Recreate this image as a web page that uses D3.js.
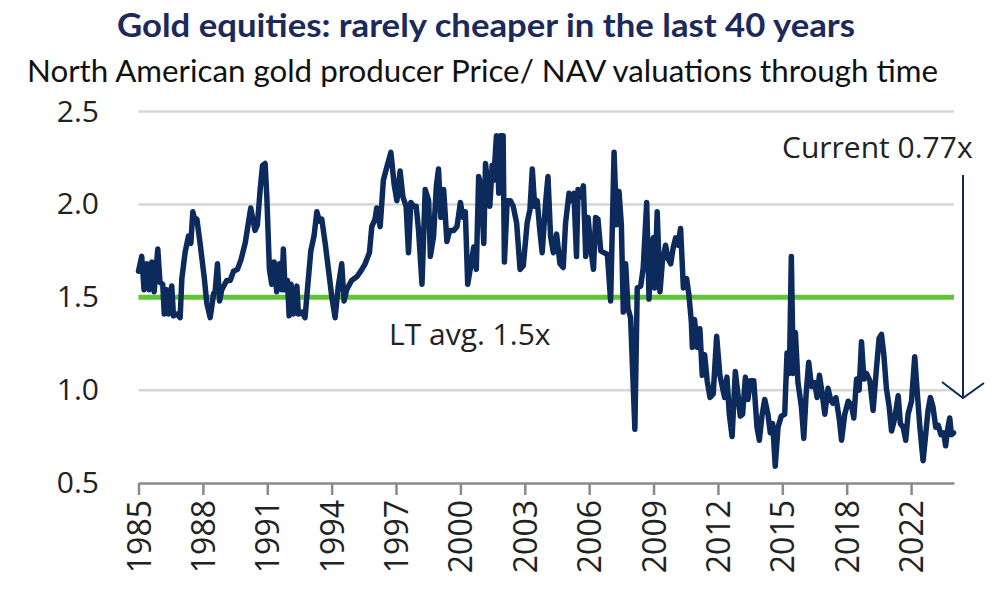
<!DOCTYPE html>
<html>
<head>
<meta charset="utf-8">
<script src="https://cdn.jsdelivr.net/npm/d3@7"></script>
<style>
  html, body { margin: 0; padding: 0; background: #fff; }
  svg { display: block; }
</style>
</head>
<body>
<div id="chart"></div>
<script>
// Price/NAV, as (decimal year, multiple) pairs
const years = [
  1985.00, 1985.15, 1985.26, 1985.39, 1985.50, 1985.62, 1985.73, 1985.90, 1986.00, 1986.13,
  1986.20, 1986.32, 1986.40, 1986.55, 1986.63, 1986.79, 1986.94, 1987.02, 1987.17, 1987.33,
  1987.44, 1987.53, 1987.64, 1987.72, 1987.87, 1988.06, 1988.18, 1988.34, 1988.50, 1988.57,
  1988.68, 1988.78, 1988.88, 1989.11, 1989.27, 1989.43, 1989.61, 1989.77, 1989.97, 1990.12,
  1990.23, 1990.33, 1990.43, 1990.54, 1990.67, 1990.78, 1990.90, 1990.98, 1991.10, 1991.21,
  1991.32, 1991.44, 1991.57, 1991.68, 1991.75, 1991.83, 1991.94, 1992.02, 1992.11, 1992.22,
  1992.38, 1992.45, 1992.61, 1992.76, 1992.87, 1993.03, 1993.18, 1993.31, 1993.43, 1993.54,
  1993.70, 1993.85, 1994.01, 1994.16, 1994.31, 1994.47, 1994.58, 1994.70, 1994.93, 1995.17,
  1995.36, 1995.56, 1995.76, 1995.87, 1996.02, 1996.10, 1996.26, 1996.41, 1996.57, 1996.76,
  1996.91, 1997.04, 1997.19, 1997.32, 1997.47, 1997.58, 1997.69, 1997.82, 1997.94, 1998.05,
  1998.21, 1998.36, 1998.52, 1998.60, 1998.75, 1998.88, 1998.98, 1999.09, 1999.22, 1999.37,
  1999.50, 1999.69, 1999.84, 2000.00, 2000.12, 2000.23, 2000.34, 2000.47, 2000.62, 2000.74,
  2000.85, 2000.96, 2001.09, 2001.17, 2001.28, 2001.37, 2001.48, 2001.55, 2001.68, 2001.79,
  2001.87, 2001.99, 2002.05, 2002.18, 2002.33, 2002.46, 2002.62, 2002.78, 2002.93, 2003.11,
  2003.24, 2003.35, 2003.46, 2003.58, 2003.70, 2003.81, 2003.97, 2004.08, 2004.20, 2004.33,
  2004.48, 2004.64, 2004.79, 2004.90, 2005.06, 2005.17, 2005.29, 2005.41, 2005.48, 2005.60,
  2005.73, 2005.84, 2005.95, 2006.07, 2006.20, 2006.30, 2006.41, 2006.54, 2006.69, 2006.85,
  2007.00, 2007.16, 2007.28, 2007.39, 2007.50, 2007.59, 2007.70, 2007.81, 2007.93, 2008.13,
  2008.24, 2008.40, 2008.52, 2008.68, 2008.79, 2008.90, 2008.99, 2009.05, 2009.17, 2009.30,
  2009.41, 2009.56, 2009.67, 2009.80, 2009.92, 2010.03, 2010.14, 2010.26, 2010.39, 2010.54,
  2010.65, 2010.76, 2010.81, 2010.91, 2011.04, 2011.16, 2011.27, 2011.38, 2011.50, 2011.63,
  2011.78, 2011.94, 2012.09, 2012.31, 2012.42, 2012.53, 2012.66, 2012.81, 2012.93, 2013.04,
  2013.15, 2013.28, 2013.40, 2013.51, 2013.67, 2013.82, 2013.93, 2014.05, 2014.18, 2014.33,
  2014.44, 2014.55, 2014.67, 2014.80, 2014.95, 2015.11, 2015.22, 2015.33, 2015.42, 2015.51,
  2015.61, 2015.73, 2015.89, 2016.00, 2016.11, 2016.23, 2016.36, 2016.51, 2016.62, 2016.73,
  2016.86, 2016.98, 2017.13, 2017.25, 2017.35, 2017.50, 2017.66, 2017.76, 2017.91, 2018.07,
  2018.22, 2018.33, 2018.46, 2018.58, 2018.69, 2018.80, 2018.92, 2019.08, 2019.23, 2019.39,
  2019.51, 2019.62, 2019.73, 2019.85, 2019.98, 2020.09, 2020.24, 2020.40, 2020.50, 2020.63,
  2020.75, 2020.86, 2021.02, 2021.17, 2021.28, 2021.41, 2021.56, 2021.68, 2021.79, 2021.90,
  2022.02, 2022.15, 2022.27, 2022.39, 2022.52, 2022.61, 2022.72, 2022.80, 2022.88, 2022.98
];
const priceNav = [
  1.64, 1.72, 1.54, 1.68, 1.54, 1.69, 1.53, 1.76, 1.58, 1.57,
  1.41, 1.54, 1.41, 1.56, 1.40, 1.41, 1.39, 1.60, 1.74, 1.83,
  1.79, 1.96, 1.91, 1.92, 1.79, 1.61, 1.47, 1.39, 1.52, 1.53,
  1.68, 1.48, 1.54, 1.59, 1.59, 1.64, 1.65, 1.70, 1.79, 1.90,
  1.98, 1.92, 1.86, 1.89, 2.08, 2.21, 2.22, 2.04, 1.65, 1.57,
  1.69, 1.53, 1.68, 1.54, 1.76, 1.54, 1.59, 1.40, 1.57, 1.41,
  1.56, 1.41, 1.42, 1.39, 1.54, 1.75, 1.83, 1.96, 1.91, 1.92,
  1.79, 1.65, 1.50, 1.39, 1.56, 1.68, 1.48, 1.54, 1.59, 1.61,
  1.64, 1.68, 1.74, 1.88, 1.92, 1.98, 1.88, 2.13, 2.20, 2.28,
  2.11, 2.02, 2.18, 2.04, 1.99, 1.74, 2.01, 1.99, 1.99, 1.86,
  1.57, 2.08, 2.02, 1.72, 1.83, 2.10, 2.19, 1.93, 2.08, 1.80,
  1.86, 1.86, 1.88, 2.01, 1.93, 1.96, 1.57, 1.66, 1.77, 1.65,
  2.15, 2.10, 1.79, 2.22, 2.10, 1.99, 2.21, 2.13, 2.37, 2.06,
  2.37, 2.37, 1.69, 2.02, 2.02, 1.99, 1.90, 1.65, 1.67, 1.90,
  1.97, 2.19, 1.99, 2.02, 1.86, 1.74, 2.01, 2.15, 1.83, 1.74,
  1.84, 1.68, 1.66, 1.90, 2.06, 2.02, 2.06, 1.72, 2.08, 2.04,
  2.10, 1.72, 1.93, 1.77, 1.65, 1.93, 1.92, 1.75, 1.74, 1.73,
  1.48, 2.28, 1.89, 2.07, 1.89, 1.42, 1.68, 1.44, 1.39, 0.79,
  1.55, 1.56, 1.66, 2.01, 1.49, 1.77, 1.82, 1.55, 1.96, 1.53,
  1.69, 1.78, 1.71, 1.68, 1.77, 1.82, 1.78, 1.87, 1.55, 1.60,
  1.51, 1.37, 1.23, 1.38, 1.23, 1.33, 1.08, 1.19, 1.05, 0.96,
  0.98, 1.29, 1.08, 0.96, 1.07, 0.87, 0.75, 1.10, 0.98, 0.86,
  0.87, 1.07, 0.95, 1.05, 1.05, 0.80, 0.73, 0.86, 0.95, 0.87,
  0.77, 0.82, 0.59, 0.80, 0.86, 0.87, 1.20, 1.09, 1.72, 1.09,
  1.31, 1.04, 0.91, 0.74, 0.98, 1.15, 1.02, 1.04, 0.96, 1.08,
  0.98, 0.87, 1.01, 0.95, 0.93, 0.96, 0.84, 0.73, 0.87, 0.94,
  0.92, 0.85, 1.06, 1.00, 1.26, 1.06, 1.09, 1.05, 0.89, 1.12,
  1.28, 1.30, 1.19, 1.01, 0.91, 0.78, 0.85, 0.97, 0.82, 0.80,
  0.73, 0.87, 0.94, 1.18, 1.00, 0.80, 0.62, 0.76, 0.89, 0.96,
  0.91, 0.80, 0.81, 0.76, 0.77, 0.70, 0.80, 0.85, 0.76, 0.77
];

const tickYears = [1985, 1988, 1991, 1994, 1997, 2000, 2003, 2006, 2009, 2012, 2015, 2018, 2021];
const tickLabels = ["1985", "1988", "1991", "1994", "1997", "2000", "2003", "2006", "2009", "2012", "2015", "2018", "2022"];
const yTicks = [0.5, 1.0, 1.5, 2.0, 2.5];

const longTermAvg = 1.5;
const currentValue = 0.77;

const titleText = "Gold equities: rarely cheaper in the last 40 years";
const subtitleText = "North American gold producer Price/ NAV valuations through time";

const width = 1008;
const height = 589;
const navy = "#0c2a5c";
const green = "#5fc537";

const svg = d3.select("#chart").append("svg")
  .attr("width", width)
  .attr("height", height);

const x = d3.scaleLinear()
  .domain([1985, 2023])
  .range([138.5, 954]);
const y = d3.scaleLinear()
  .domain([0.5, 2.5])
  .range([483, 111.5]);

// titles
svg.append("text")
  .attr("x", 117)
  .attr("y", 37)
  .attr("textLength", 738)
  .attr("lengthAdjust", "spacingAndGlyphs")
  .style("font-family", "Lato, 'Open Sans', sans-serif")
  .style("font-weight", 700)
  .style("font-size", "32px")
  .style("fill", "#1b2a5a")
  .text(titleText);

svg.append("text")
  .attr("x", 27)
  .attr("y", 82)
  .attr("textLength", 911)
  .attr("lengthAdjust", "spacingAndGlyphs")
  .style("font-family", "Lato, 'Open Sans', sans-serif")
  .style("font-size", "30px")
  .style("fill", "#111")
  .text(subtitleText);

// gridlines
svg.append("g")
  .selectAll("line")
  .data(yTicks.filter(d => d > 0.5))
  .join("line")
    .attr("x1", x.range()[0])
    .attr("x2", x.range()[1])
    .attr("y1", d => y(d))
    .attr("y2", d => y(d))
    .style("stroke", "#d6d6d6")
    .style("stroke-width", 2.5);

// y axis labels
const yAxis = d3.axisLeft(y)
  .tickValues(yTicks)
  .tickFormat(d3.format(".1f"))
  .tickSize(0)
  .tickPadding(0);

const yAxisG = svg.append("g")
  .attr("transform", "translate(99,0)")
  .call(yAxis);
yAxisG.select(".domain").remove();
yAxisG.selectAll("text")
  .style("font-family", "'Open Sans', sans-serif")
  .style("font-size", "30px")
  .style("fill", "#222");

// x axis
const xAxis = d3.axisBottom(x)
  .tickValues(tickYears)
  .tickFormat((d, i) => tickLabels[i])
  .tickSize(12)
  .tickSizeOuter(0)
  .tickPadding(0);

const xAxisG = svg.append("g")
  .attr("transform", `translate(0,${y(0.5)})`)
  .call(xAxis);
xAxisG.select(".domain")
  .style("stroke", "#8a8a8a")
  .style("stroke-width", 2.5);
xAxisG.selectAll(".tick line")
  .style("stroke", "#8a8a8a")
  .style("stroke-width", 2.5);
xAxisG.selectAll("text")
  .attr("transform", "rotate(-90)")
  .attr("x", -17)
  .attr("y", 0)
  .attr("dy", "0.36em")
  .style("text-anchor", "end")
  .style("font-family", "'Open Sans', sans-serif")
  .style("font-size", "32px")
  .style("fill", "#222");

// long term average
svg.append("line")
  .attr("x1", x.range()[0])
  .attr("x2", x.range()[1])
  .attr("y1", y(longTermAvg))
  .attr("y2", y(longTermAvg))
  .style("stroke", green)
  .style("stroke-width", 5);

// the series
const data = years.map((yr, i) => ({ x: yr, y: priceNav[i] }));
const line = d3.line()
  .x(d => x(d.x))
  .y(d => y(d.y));

svg.append("path")
  .datum(data)
  .attr("d", line)
  .style("fill", "none")
  .style("stroke", navy)
  .style("stroke-width", 5.5)
  .style("stroke-linejoin", "round")
  .style("stroke-linecap", "round");

// annotations
svg.append("text")
  .attr("x", 389)
  .attr("y", 345)
  .style("font-family", "'Open Sans', sans-serif")
  .style("font-size", "30px")
  .style("fill", "#222")
  .text(`LT avg. ${longTermAvg}x`);

svg.append("text")
  .attr("x", 782)
  .attr("y", 158)
  .style("font-family", "'Open Sans', sans-serif")
  .style("font-size", "30px")
  .style("fill", "#222")
  .text(`Current ${currentValue}x`);

const arrowX = 963;
const arrowTip = 398;
svg.append("path")
  .attr("d", `M${arrowX},175 L${arrowX},${arrowTip} M${arrowX - 21},${arrowTip - 16} L${arrowX},${arrowTip} L${arrowX + 21},${arrowTip - 15}`)
  .style("fill", "none")
  .style("stroke", navy)
  .style("stroke-width", 2);
</script>
</body>
</html>
